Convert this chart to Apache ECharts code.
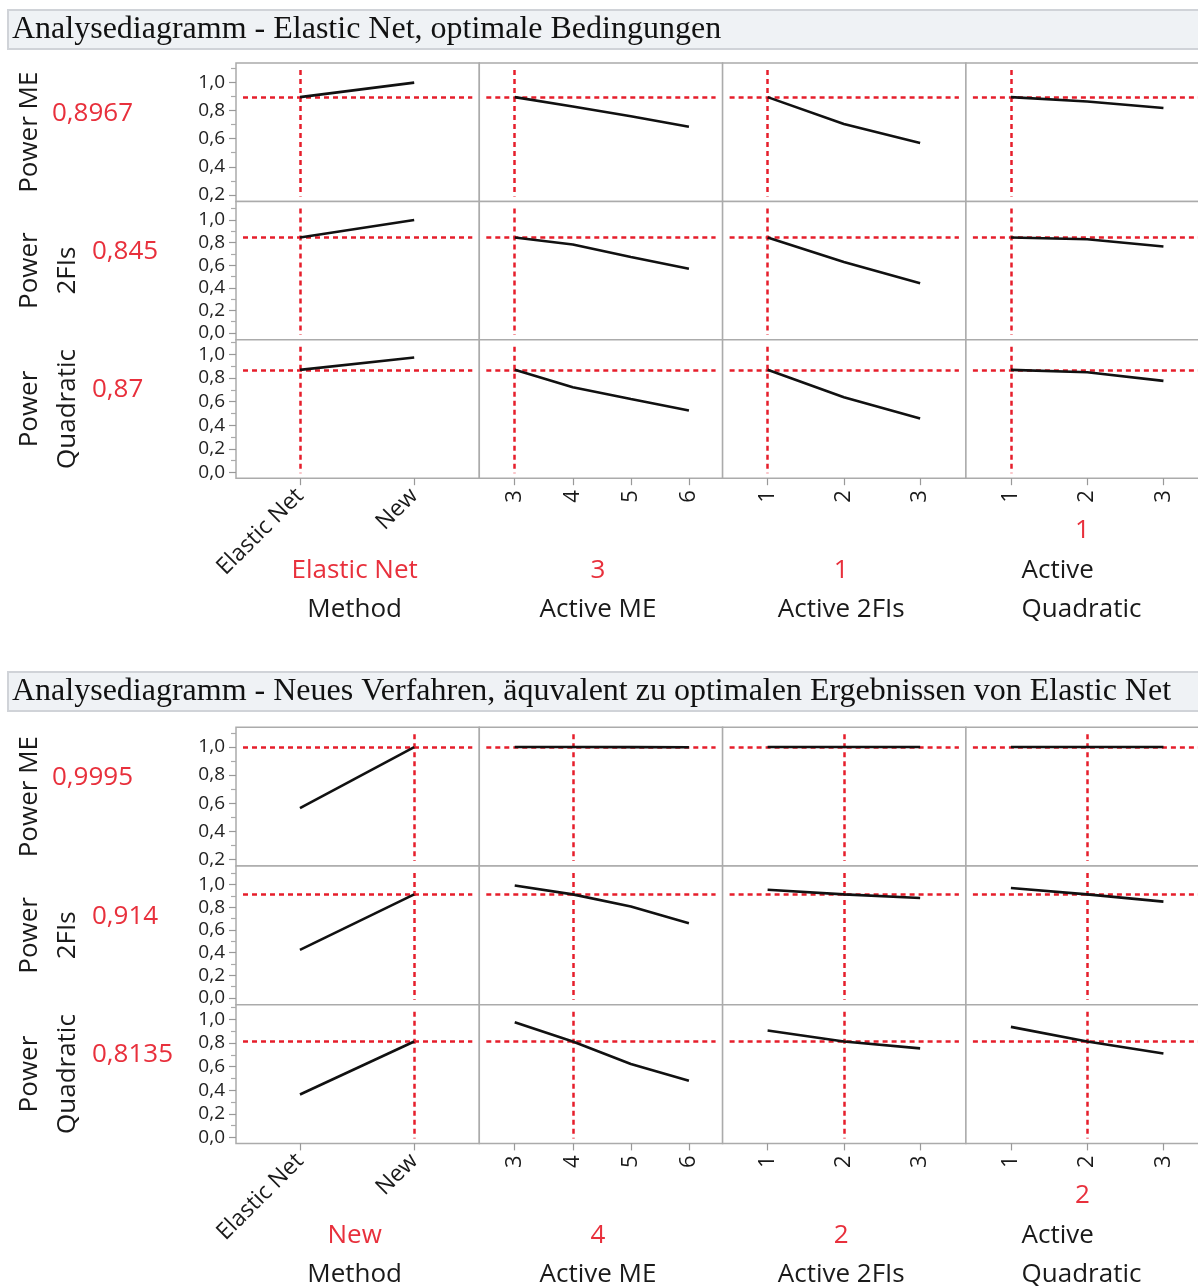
<!DOCTYPE html>
<html>
<head>
<meta charset="utf-8">
<script src="https://cdn.jsdelivr.net/npm/echarts@6/dist/echarts.min.js"></script>
<style>
html,body{margin:0;padding:0;background:#fff;}
#c{width:1198px;height:1287px;}
</style>
</head>
<body>
<div id="c"></div>
<script>
// ---------------- DATA ----------------
const titleA = "Analysediagramm - Elastic Net, optimale Bedingungen";
const titleB = "Analysediagramm - Neues Verfahren, äquvalent zu optimalen Ergebnissen von Elastic Net";
const responseNames = ["Power ME", "Power\n2FIs", "Power\nQuadratic"];
const factorNames = ["Method", "Active ME", "Active 2FIs", "Active\nQuadratic"];
const methodLevels = ["Elastic Net", "New"];
const activeMELevels = [3, 4, 5, 6];
const active2FILevels = [1, 2, 3];
const activeQuadLevels = [1, 2, 3];
const yMajorTicksME = [0.2, 0.4, 0.6, 0.8, 1.0];
const yMinorTicksME = [0.3, 0.5, 0.7, 0.9, 1.1];
const yMajorTicks = [0.0, 0.2, 0.4, 0.6, 0.8, 1.0];
const yMinorTicks = [0.1, 0.3, 0.5, 0.7, 0.9, 1.1];

// chart A: Elastic Net, optimal conditions
const settingA = ["Elastic Net", 3, 1, 1];
const currentA = [0.8967, 0.845, 0.87];
const A_powerME_byMethod = [0.8967, 1.0];
const A_powerME_byActiveME = [0.8967, 0.83, 0.76, 0.686];
const A_powerME_byActive2FI = [0.8967, 0.705, 0.57];
const A_powerME_byActiveQuad = [0.8967, 0.865, 0.819];
const A_power2FI_byMethod = [0.845, 1.0];
const A_power2FI_byActiveME = [0.845, 0.783, 0.672, 0.568];
const A_power2FI_byActive2FI = [0.845, 0.628, 0.44];
const A_power2FI_byActiveQuad = [0.845, 0.83, 0.766];
const A_powerQuad_byMethod = [0.87, 0.975];
const A_powerQuad_byActiveME = [0.87, 0.722, 0.622, 0.524];
const A_powerQuad_byActive2FI = [0.87, 0.637, 0.456];
const A_powerQuad_byActiveQuad = [0.87, 0.85, 0.776];

// chart B: new method, equivalent to Elastic Net optimum
const settingB = ["New", 4, 2, 2];
const currentB = [0.9995, 0.914, 0.8135];
const B_powerME_byMethod = [0.565, 0.9995];
const B_powerME_byActiveME = [0.9998, 0.9995, 0.999, 0.998];
const B_powerME_byActive2FI = [0.9997, 0.9995, 0.9993];
const B_powerME_byActiveQuad = [0.9997, 0.9995, 0.9993];
const B_power2FI_byMethod = [0.423, 0.914];
const B_power2FI_byActiveME = [0.992, 0.914, 0.807, 0.66];
const B_power2FI_byActive2FI = [0.955, 0.914, 0.882];
const B_power2FI_byActiveQuad = [0.97, 0.914, 0.85];
const B_powerQuad_byMethod = [0.364, 0.8135];
const B_powerQuad_byActiveME = [0.976, 0.8135, 0.623, 0.48];
const B_powerQuad_byActive2FI = [0.907, 0.8135, 0.755];
const B_powerQuad_byActiveQuad = [0.937, 0.8135, 0.712];

// ---------------- LAYOUT ----------------
const FONT = '"Open Sans", "Noto Sans", sans-serif';
const RED = '#e8303c';
const DASHRED = '#e61e2b';
const colLeft = [236, 479.3, 722.6, 965.9];
const colW = 243.3;
const xRanges = [[-0.56, 1.57], [2.39, 6.58], [0.41, 3.60], [0.41, 3.60]];
const yRanges = [[0.153, 1.14], [-0.061, 1.165], [-0.05, 1.125]];
const xLevels = [methodLevels.map((_, i) => i), activeMELevels, active2FILevels, activeQuadLevels];

const charts = [
  { title: titleA, titleY: 10, rowTop: [63, 201.4, 339.8], rowH: 138.4,
    setting: settingA, current: currentA,
    profiles: [
      [A_powerME_byMethod, A_powerME_byActiveME, A_powerME_byActive2FI, A_powerME_byActiveQuad],
      [A_power2FI_byMethod, A_power2FI_byActiveME, A_power2FI_byActive2FI, A_power2FI_byActiveQuad],
      [A_powerQuad_byMethod, A_powerQuad_byActiveME, A_powerQuad_byActive2FI, A_powerQuad_byActiveQuad]
    ] },
  { title: titleB, titleY: 672, rowTop: [727.3, 866, 1004.7], rowH: 138.7,
    setting: settingB, current: currentB,
    profiles: [
      [B_powerME_byMethod, B_powerME_byActiveME, B_powerME_byActive2FI, B_powerME_byActiveQuad],
      [B_power2FI_byMethod, B_power2FI_byActiveME, B_power2FI_byActive2FI, B_power2FI_byActiveQuad],
      [B_powerQuad_byMethod, B_powerQuad_byActiveME, B_powerQuad_byActive2FI, B_powerQuad_byActiveQuad]
    ] }
];

const fmtComma = v => String(v).replace('.', ',');
const fmtTick = v => v.toFixed(1).replace('.', ',');

const grids = [], xAxes = [], yAxes = [], minorY = [], series = [], graphics = [];

charts.forEach((ch) => {
  const curX = ch.setting.map((s, c) => c === 0 ? methodLevels.indexOf(s) : s);
  // title bar
  graphics.push({ type: 'rect', shape: { x: 8, y: ch.titleY, width: 1200, height: 39 },
    style: { fill: '#eff2f5', stroke: '#d0d3d8', lineWidth: 2 }, silent: true });
  graphics.push({ type: 'text', x: 12, y: ch.titleY + 19.5,
    style: { text: ch.title, font: 'normal 32px "Liberation Serif", "Times New Roman", serif', fill: '#111',
      textAlign: 'left', textVerticalAlign: 'middle', align: 'left', verticalAlign: 'middle' }, silent: true });

  for (let r = 0; r < 3; r++) {
    const top = ch.rowTop[r];
    const [ymin, ymax] = yRanges[r];
    const nLines = responseNames[r].split('\n').length;
    const rowC = top + ch.rowH / 2;
    // row label (rotated)
    graphics.push({ type: 'text', x: 30 + (nLines - 1) * 19, y: rowC, rotation: Math.PI / 2,
      style: { text: responseNames[r], font: '26px ' + FONT, fill: '#1a1a1a', lineHeight: 38,
        textAlign: 'center', textVerticalAlign: 'middle', align: 'center', verticalAlign: 'middle' }, silent: true });
    // current value
    graphics.push({ type: 'text', x: 52 + (nLines - 1) * 40, y: rowC - 19,
      style: { text: fmtComma(ch.current[r]), font: '26px ' + FONT, fill: RED,
        textAlign: 'left', textVerticalAlign: 'middle', align: 'left', verticalAlign: 'middle' }, silent: true });

    for (let c = 0; c < 4; c++) {
      const gi = grids.length;
      const [xmin, xmax] = xRanges[c];
      const isBottom = r === 2;
      grids.push({ left: colLeft[c], top: top, width: colW, height: ch.rowH, show: true,
        backgroundColor: '#fff', borderColor: '#ababab', borderWidth: 1.5, containLabel: false, outerBoundsMode: 'none' });
      const lv = xLevels[c];
      xAxes.push({ type: 'value', gridIndex: gi, min: xmin, max: xmax, position: 'bottom',
        axisLine: { show: false, onZero: false }, splitLine: { show: false },
        axisTick: { show: isBottom, customValues: lv, length: 7, lineStyle: { color: '#999', width: 1.2 } },
        axisLabel: { show: isBottom, customValues: lv, rotate: c === 0 ? 45 : 90, margin: c === 0 ? 14 : 12,
          fontFamily: FONT, fontSize: c === 0 ? 23 : 22, color: '#1a1a1a',
          formatter: c === 0 ? (v => methodLevels[Math.round(v)]) : (v => String(v)) } });
      const majors = r === 0 ? yMajorTicksME : yMajorTicks;
      yAxes.push({ type: 'value', gridIndex: gi, min: ymin, max: ymax, position: 'left',
        axisLine: { show: false, onZero: false }, splitLine: { show: false },
        axisTick: { show: c === 0, customValues: majors, length: 7, lineStyle: { color: '#999', width: 1.2 } },
        axisLabel: { show: c === 0, customValues: majors, margin: 11, fontFamily: FONT, fontSize: 19, color: '#222',
          formatter: fmtTick } });
      if (c === 0) {
        minorY.push({ type: 'value', gridIndex: gi, min: ymin, max: ymax, position: 'left', offset: 0,
          axisLine: { show: false, onZero: false }, splitLine: { show: false }, axisLabel: { show: false },
          axisTick: { show: true, customValues: r === 0 ? yMinorTicksME : yMinorTicks, length: 5,
            lineStyle: { color: '#aaa', width: 1.2 } } });
      }
      const vals = ch.profiles[r][c];
      const dx = 7 / colW * (xmax - xmin);
      const dy = 7 / ch.rowH * (ymax - ymin);
      const cur = ch.current[r];
      // red dashed reference lines
      series.push({ type: 'line', xAxisIndex: gi, yAxisIndex: gi, data: [], z: 1, silent: true,
        markLine: { symbol: 'none', silent: true, animation: false, label: { show: false },
          lineStyle: { color: DASHRED, type: [5, 4], width: 2.5 },
          emphasis: { disabled: true },
          data: [
            [{ coord: [xmin + dx, cur] }, { coord: [xmax - dx, cur] }],
            [{ coord: [curX[c], ymax - dy] }, { coord: [curX[c], ymin + 0.7 * dy] }]
          ] } });
      // profile line
      series.push({ type: 'line', xAxisIndex: gi, yAxisIndex: gi, z: 5, silent: true,
        data: lv.map((x, i) => [x, vals[i]]), symbol: 'none', animation: false,
        lineStyle: { color: '#111', width: 2.6 } });
    }
  }

  // factor labels below the axes
  const bottom = ch.rowTop[0] + 3 * ch.rowH;
  for (let c = 0; c < 4; c++) {
    const cx = colLeft[c] + colW / 2;
    const lines = factorNames[c].split('\n');
    if (lines.length === 1) {
      graphics.push({ type: 'text', x: cx - 3, y: bottom + 92,
        style: { text: String(ch.setting[c]), font: '26px ' + FONT, fill: RED,
          textAlign: 'center', textVerticalAlign: 'middle', align: 'center', verticalAlign: 'middle' }, silent: true });
      graphics.push({ type: 'text', x: cx - 3, y: bottom + 131,
        style: { text: factorNames[c], font: '26px ' + FONT, fill: '#1a1a1a',
          textAlign: 'center', textVerticalAlign: 'middle', align: 'center', verticalAlign: 'middle' }, silent: true });
    } else {
      graphics.push({ type: 'text', x: cx - 5, y: bottom + 52,
        style: { text: String(ch.setting[c]), font: '26px ' + FONT, fill: RED,
          textAlign: 'center', textVerticalAlign: 'middle', align: 'center', verticalAlign: 'middle' }, silent: true });
      lines.forEach((ln, k) => {
        graphics.push({ type: 'text', x: cx - 66, y: bottom + 92 + k * 39,
          style: { text: ln, font: '26px ' + FONT, fill: '#1a1a1a',
            textAlign: 'left', textVerticalAlign: 'middle', align: 'left', verticalAlign: 'middle' }, silent: true });
      });
    }
  }
});

minorY.forEach(a => yAxes.push(a));

const chart = echarts.init(document.getElementById('c'), null, { renderer: 'canvas', width: 1198, height: 1287 });
chart.setOption({
  backgroundColor: '#ffffff',
  animation: false,
  grid: grids,
  xAxis: xAxes,
  yAxis: yAxes,
  series: series,
  graphic: { elements: graphics }
});
</script>
</body>
</html>
